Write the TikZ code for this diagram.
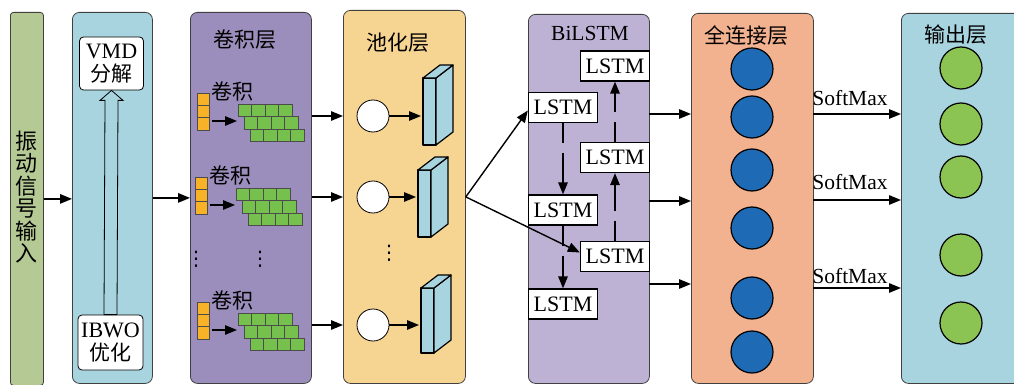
\documentclass[tikz,border=0pt]{standalone}
\usepackage{fontspec}
\setmainfont{Liberation Serif}
\newfontfamily\cjk{Noto Sans CJK SC}
\newfontfamily\djv{DejaVu Sans}
\usetikzlibrary{arrows.meta,calc}
\definecolor{cgreenbar}{HTML}{B5C994}
\definecolor{cblue}{HTML}{A8D4E0}
\definecolor{cconv}{HTML}{9C8EBC}
\definecolor{cpool}{HTML}{F6D492}
\definecolor{cbil}{HTML}{BDB2D4}
\definecolor{cfc}{HTML}{F3B28F}
\definecolor{corange}{HTML}{F7B228}
\definecolor{cbrick}{HTML}{76C04E}
\definecolor{cbluecirc}{HTML}{1E6AB4}
\definecolor{cgreencirc}{HTML}{8CC454}
\begin{document}
\begin{tikzpicture}[x=1pt,y=-1pt,
  panel/.style={draw=black!75, line width=0.8pt, rounded corners=7pt, anchor=north west, inner sep=0pt},
  arr/.style={-{Triangle[length=12pt,width=9.5pt]}, line width=1.4pt},
  brk/.style={arr, dash pattern=on 20pt off 10pt on 300pt off 1pt},
  wbox/.style={draw, fill=white, rounded corners=4pt, line width=0.8pt, minimum width=64pt, inner sep=1pt},
  lstm/.style={draw, fill=white, line width=1.3pt, minimum width=69pt, minimum height=30pt, inner sep=0pt, font=\fontsize{22}{22}\selectfont},
  ttl/.style={font=\cjk\fontsize{21}{22}\selectfont},
  osq/.style={draw=black!70, fill=corange, line width=0.6pt},
  gsq/.style={draw=black!70, fill=cbrick, line width=0.6pt},
  prism/.style={draw, fill=cblue, line width=1.2pt, line join=round},
  pc/.style={circle, draw, fill=white, line width=0.8pt, minimum size=32pt, inner sep=0pt},
  bc/.style={circle, draw, fill=cbluecirc, line width=1.2pt, minimum size=42pt, inner sep=0pt},
  gc/.style={circle, draw, fill=cgreencirc, line width=1.2pt, minimum size=42pt, inner sep=0pt},
  vd/.style={inner sep=0pt, font=\djv\fontsize{20}{22}\selectfont},
  sm/.style={anchor=base, font=\fontsize{21.5}{22}\selectfont}
]
\useasboundingbox (0,0) rectangle (1014,385);
\clip (0,0) rectangle (1014,385);

% panels
\node[panel, fill=cgreenbar, rounded corners=3pt, minimum width=33pt, minimum height=373pt] (inp) at (10,12) {};
\node[panel, fill=cblue, minimum width=80pt, minimum height=371pt] (vmdp) at (72,12) {};
\node[panel, fill=cconv, minimum width=121pt, minimum height=371pt] (conv) at (190,12) {};
\node[panel, fill=cpool, minimum width=122pt, minimum height=373pt] (pool) at (343,10) {};
\node[panel, fill=cbil, minimum width=121pt, minimum height=369pt] (bil) at (528,14) {};
\node[panel, fill=cfc, minimum width=122pt, minimum height=370pt] (fc) at (691,13) {};
\node[panel, fill=cblue, minimum width=125pt, minimum height=370pt] (outp) at (901,13) {};

% input text
\node[align=center, inner sep=0pt, font=\cjk\fontsize{22}{22.5}\selectfont] (inptxt) at (27,197) {振\\动\\信\\号\\输\\入};

% VMD panel
\node[wbox, minimum height=53pt, align=center, font=\fontsize{22}{23}\selectfont] (vmd) at (111.5,63.5) {VMD\\{\cjk\fontsize{21}{22}\selectfont 分解}};
\node[wbox, minimum height=55pt, minimum width=65pt, align=center, font=\fontsize{22}{23}\selectfont] (ibwo) at (110.5,342.5) {IBWO\\{\cjk\fontsize{21}{22}\selectfont 优化}};
\draw[line width=0.8pt, fill=cblue, line join=miter]
  ($(ibwo.north)+(-6.5,0)$) -- ($(vmd.south)+(-6.5,10)$) -- ($(vmd.south)+(-11.5,10)$)
  -- (vmd.south) -- ($(vmd.south)+(11.5,10)$) -- ($(vmd.south)+(6.5,10)$) -- ($(ibwo.north)+(6.5,0)$) -- cycle;

\draw[arr] (inp.east) -- (inp.east -| vmdp.west);
\draw[arr] (vmdp.east) -- (vmdp.east -| conv.west);

% conv layer
\node[ttl] (convt) at (245,40) {卷积层};
\foreach \i/\dx/\dy in {1/0/0, 2/-2/84, 3/0/209}{
  \node[font=\cjk\fontsize{21}{22}\selectfont, inner sep=0pt] (kt\i) at (232+\dx, 91+\dy) {卷积};
  \foreach \k in {0,1,2}
    \draw[osq] (197+\dx, 93+\dy+12.3*\k) rectangle ++(12,12.3);
  \foreach \r in {0,1,2}
    \foreach \c in {0,1,2,3}
      \draw[gsq] (238+\dx+6*\r+13.5*\c, 104+\dy+12.5*\r) rectangle ++(13.5,12.5);
  \coordinate (ko\i) at (212+\dx, 121+\dy);
  \coordinate (kg\i) at (237+\dx, 121+\dy);
  \draw[arr] (ko\i) -- (kg\i);
}
\node[vd] (kd1) at (196,259) {⋮};
\node[vd] (kd2) at (260,259) {⋮};

% pool layer
\node[ttl] (poolt) at (398,43) {池化层};
\foreach \i/\cy/\px/\py/\ph in {1/116/423/78/67, 2/197/418/170/67, 3/325/421/288/65}{
  \node[pc] (c\i) at (373,\cy) {};
  \draw[prism] (\px,\py) rectangle ++(13,\ph);
  \draw[prism] (\px+13,\py) -- ++(17,-13) -- ++(0,\ph) -- ++(-17,13) -- cycle;
  \draw[prism] (\px,\py) -- ++(17,-13) -- ++(13,0) -- ++(-17,13) -- cycle;
  \coordinate (pr\i) at (\px,\py+30);
  \draw[arr, shorten >=2pt] (c\i.east) -- (c\i.east -| pr\i);
  \draw[arr] (conv.east |- c\i) -- (pool.west |- c\i);
}
\node[vd] (pd) at (389,253) {⋮};

% BiLSTM
\node[font=\fontsize{21.5}{22}\selectfont] (bilt) at (590,33) {BiLSTM};
\node[lstm] (A) at (563,107.5) {LSTM};
\node[lstm] (B) at (615,66) {LSTM};
\node[lstm] (C) at (615,157.5) {LSTM};
\node[lstm] (D) at (563,210) {LSTM};
\node[lstm] (E) at (615,256.5) {LSTM};
\node[lstm] (F) at (563,304) {LSTM};
\draw[brk] (A.south) -- (D.north);
\draw[brk] (D.south) -- (F.north);
\draw[brk] (E.north) -- (C.south);
\draw[brk] (C.north) -- (B.south);
\draw[arr] (pool.east) -- ($(A.west)+(0,3)$);
\draw[arr] (pool.east) -- ($(E.west)+(0,-4)$);

\foreach \i/\y in {1/114, 2/201, 3/284}{
  \coordinate (bo\i) at (649,\y);
  \draw[arr] (bo\i) -- (bo\i -| fc.west);
}

% fully connected
\node[ttl] (fct) at (746,36) {全连接层};
\foreach \i/\y in {1/69, 2/117, 3/170, 4/228, 5/298, 6/352}
  \node[bc] (f\i) at (752,\y) {};

% softmax
\foreach \i/\y/\ly in {1/114/106, 2/200/189, 3/288/283}{
  \coordinate (so\i) at (813,\y);
  \draw[arr] (so\i) -- (so\i -| outp.west);
  \node[sm] (sl\i) at (850,\ly) {SoftMax};
}

% output
\node[ttl] (outt) at (956,35) {输出层};
\foreach \i/\y in {1/68, 2/124, 3/177, 4/255, 5/323}
  \node[gc] (o\i) at (961,\y) {};
\end{tikzpicture}
\end{document}
